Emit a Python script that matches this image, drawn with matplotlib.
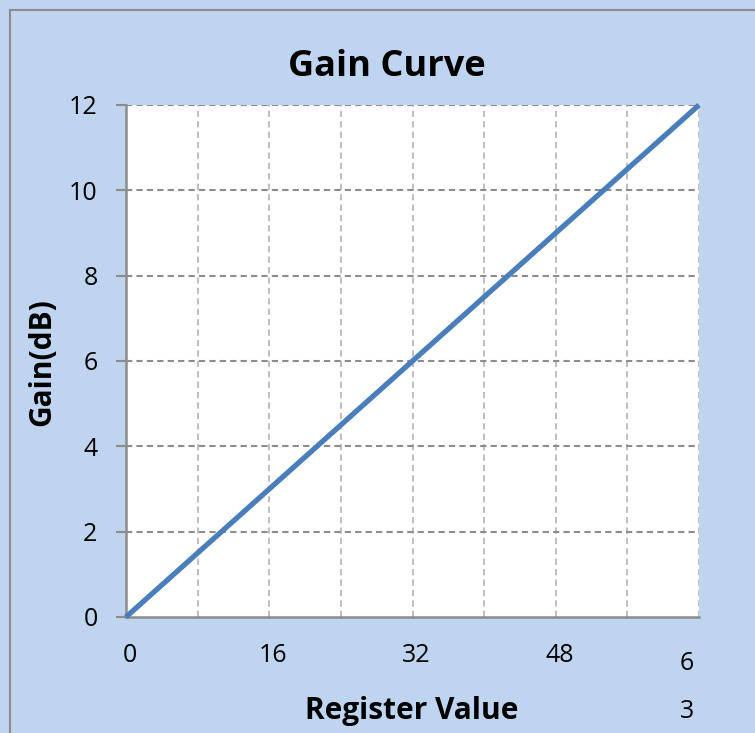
import matplotlib
matplotlib.use("Agg")
import matplotlib.pyplot as plt
from matplotlib.patches import Rectangle
from matplotlib.transforms import ScaledTranslation

register = [0, 16, 32, 48, 64]
gain_db = [0, 3, 6, 9, 12]
x_ticks = [0, 16, 32, 48]
x_ticklabels = ["0", "16", "32", "48"]
y_ticks = [0, 2, 4, 6, 8, 10, 12]

plt.rcParams['font.family'] = ['Open Sans', 'DejaVu Sans']

W, H = 755, 733
fig = plt.figure(figsize=(W / 100, H / 100), dpi=100)
bg = '#BFD4EE'
fig.patch.set_facecolor(bg)
fig.patches.append(Rectangle((9.5 / W, -0.1), 1.2, 1 - 10.5 / H + 0.1,
                             transform=fig.transFigure, facecolor='none',
                             edgecolor='#8C8C8C', linewidth=1.5))

ax = fig.add_axes([126 / W, (H - 617) / H, (699 - 126) / W, (617 - 105) / H])
ax.set_facecolor('white')
ax.set_xlim(0, 64)
ax.set_ylim(0, 12)

# gridlines
for xv in range(8, 65, 8):
    ax.axvline(xv, color='#C0C0C0', linestyle=(0, (3, 2)), linewidth=1.5, zorder=1)
for yv in y_ticks[1:]:
    ax.axhline(yv, color='#8C8C8C', linestyle=(0, (3, 2)), linewidth=1.5, zorder=1)

ax.plot(register, gain_db, color='#4A7EBB', linewidth=3.8, zorder=3,
        solid_capstyle='butt', clip_on=False)

for s in ['top', 'right']:
    ax.spines[s].set_visible(False)
for s in ['left', 'bottom']:
    ax.spines[s].set_color('#8C8C8C')
    ax.spines[s].set_linewidth(1.8)

ax.set_yticks(y_ticks)
ax.set_yticklabels([str(v) for v in y_ticks])
ax.set_xticks(x_ticks)
ax.set_xticklabels(x_ticklabels)
ax.tick_params(axis='y', direction='out', length=7, width=1.5, color='#8C8C8C',
               labelsize=18, pad=13.5)
ax.tick_params(axis='x', length=0, labelsize=18, pad=19)
shift = ScaledTranslation(3.5 / 100, 0, fig.dpi_scale_trans)
for lbl in ax.get_xticklabels():
    lbl.set_transform(lbl.get_transform() + shift)

fig.text(687 / W, 1 - 663 / H, "6", ha='center', va='center', fontsize=18)
fig.text(687 / W, 1 - 712 / H, "3", ha='center', va='center', fontsize=18)

fig.text(387 / W, 1 - 67 / H, "Gain Curve", ha='center', va='center',
         fontsize=26, fontweight='bold')
fig.text(412 / W, 1 - 711 / H, "Register Value", ha='center', va='center',
         fontsize=21.5, fontweight='bold')
fig.text(42 / W, 1 - 362 / H, "Gain(dB)", ha='center', va='center',
         fontsize=21.5, fontweight='bold', rotation=90)

fig.savefig("out.png", dpi=100, facecolor=fig.get_facecolor())
